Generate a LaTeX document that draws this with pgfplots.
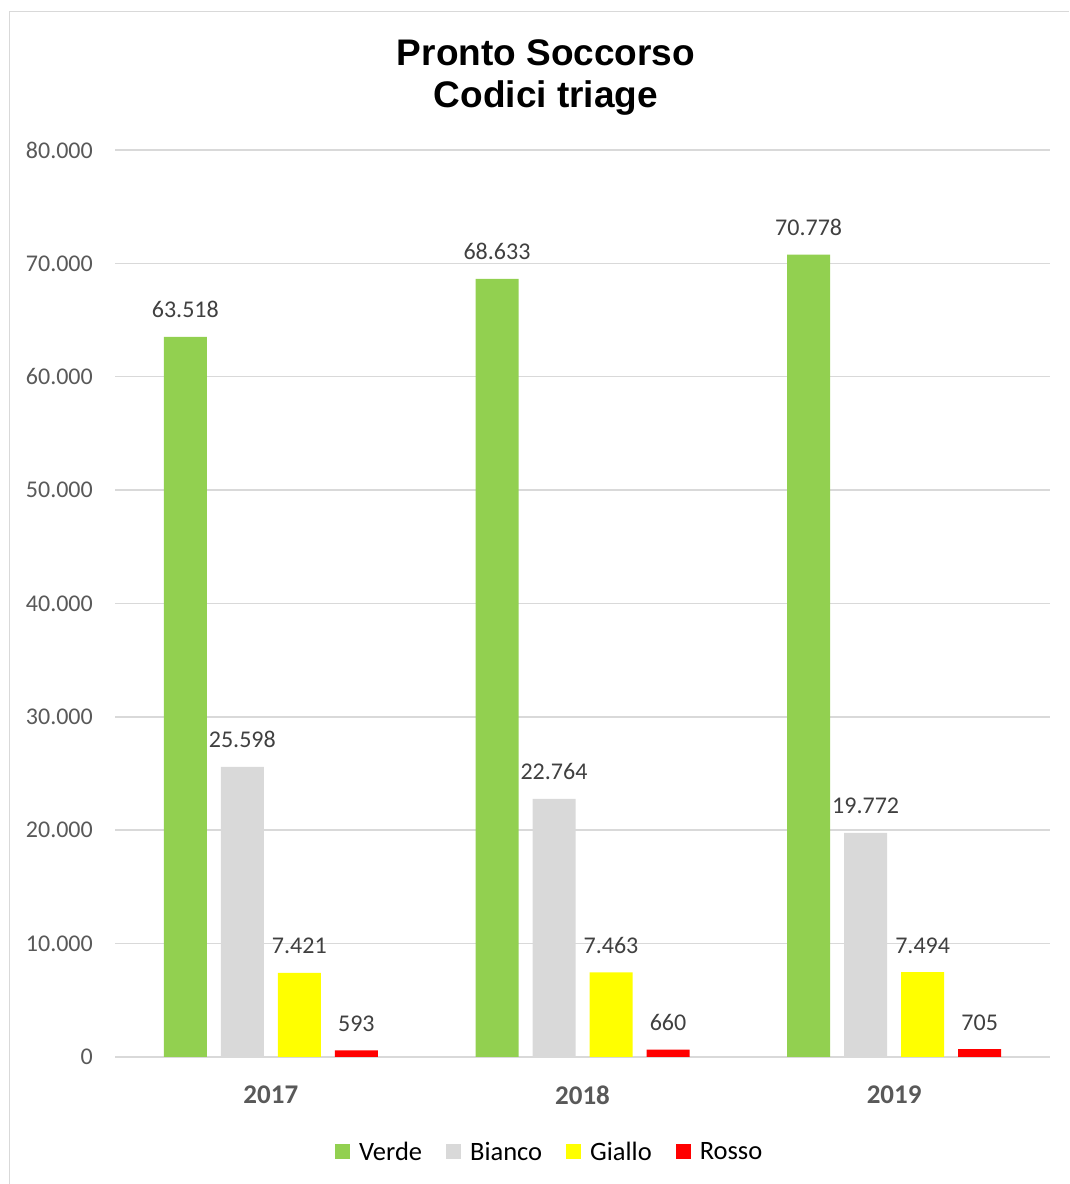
\documentclass[border=0pt]{standalone}
\usepackage{pgfplots}
\pgfplotsset{compat=1.18}
\usepackage{fontspec}
\setmainfont{Carlito}
\newfontfamily\arialfont{Liberation Sans}
\definecolor{verde}{HTML}{92D050}
\definecolor{bianco}{HTML}{D9D9D9}
\definecolor{giallo}{HTML}{FFFF00}
\definecolor{rosso}{HTML}{FF0000}
\definecolor{gridc}{HTML}{D9D9D9}
\definecolor{tickc}{HTML}{595959}
\definecolor{labc}{HTML}{404040}
\pgfplotsset{sqleg/.style={legend image code/.code={\fill[##1] (0pt,-7.5pt) rectangle (15pt,7.5pt);}}}
\begin{document}
\begin{tikzpicture}[x=1pt,y=1pt]
\path[use as bounding box] (0,0) rectangle (1069,1184);
\draw[gridc, line width=1.5pt] (9.5,0) -- (9.5,1172.5) -- (1069,1172.5);
\node[font=\arialfont\bfseries\fontsize{37}{44}\selectfont, anchor=base, inner sep=0pt] at (546,1118) {Pronto Soccorso};
\node[font=\arialfont\bfseries\fontsize{37}{44}\selectfont, anchor=base, inner sep=0pt] at (546,1076) {Codici triage};
\begin{axis}[
  at={(115pt,127pt)}, anchor=south west,
  scale only axis, width=935pt, height=907pt,
  ymin=0, ymax=80000,
  xmin=-0.5, xmax=2.5,
  xtick={0,1,2}, xticklabels={2017,2018,2019},
  ytick={0,10000,...,80000},
  scaled y ticks=false,
  ymajorgrids, grid style={gridc, line width=1.5pt},
  axis line style={draw=none},
  major tick length=0pt,
  ybar=14pt, bar width=43pt,
  /pgf/number format/1000 sep={.},
  /pgf/number format/assume math mode=true,
  yticklabel style={font=\fontsize{24}{28}\selectfont, text=tickc, inner sep=0pt, anchor=east, xshift=-22pt},
  xticklabel style={font=\bfseries\fontsize{27}{32}\selectfont, text=tickc, inner sep=0pt, anchor=north, yshift=-29pt},
  nodes near coords,
  every node near coord/.append style={font=\fontsize{24}{28}\selectfont, text=labc, anchor=base, inner sep=0pt, yshift=19pt},
  legend columns=-1,
  legend style={at={(0.465,-0.1047)}, anchor=center, draw=none, fill=none,
    font=\fontsize{26.5}{30}\selectfont, text=black,
    /tikz/every odd column/.append style={column sep=7pt},
    /tikz/every even column/.append style={column sep=22pt}},
  clip=false,
]
\addplot[fill=verde, draw=none, sqleg] coordinates {(0,63518) (1,68633) (2,70778)};
\addplot[fill=bianco, draw=none, sqleg] coordinates {(0,25598) (1,22764) (2,19772)};
\addplot[fill=giallo, draw=none, sqleg] coordinates {(0,7421) (1,7463) (2,7494)};
\addplot[fill=rosso, draw=none, sqleg] coordinates {(0,593) (1,660) (2,705)};
\legend{Verde,Bianco,Giallo,Rosso}
\end{axis}
\end{tikzpicture}
\end{document}
